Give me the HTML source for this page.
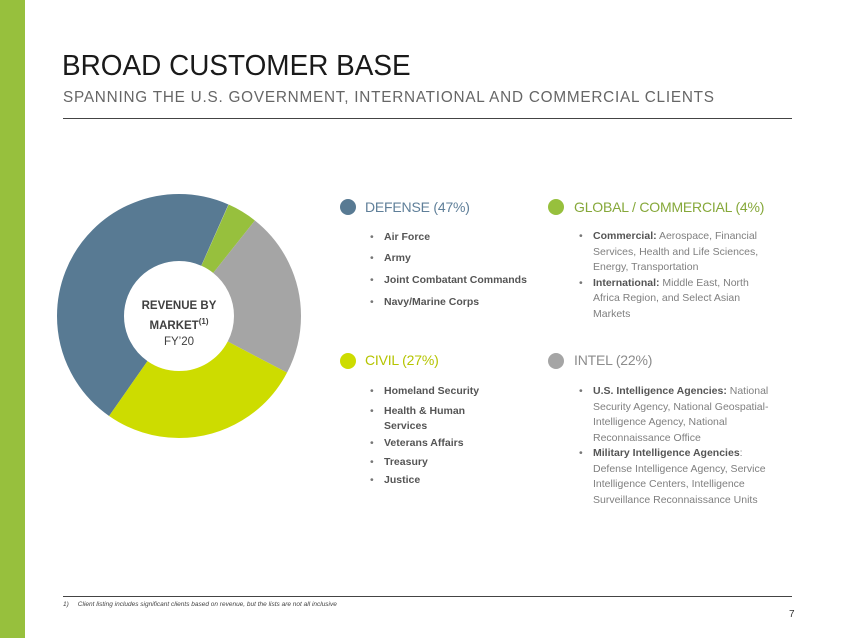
<!DOCTYPE html>
<html><head><meta charset="utf-8"><style>
*{margin:0;padding:0;box-sizing:border-box}
body{width:850px;height:638px;background:#fff;position:relative;overflow:hidden;font-family:"Liberation Sans",sans-serif}
.a{position:absolute;white-space:nowrap}
.bar{left:0;top:0;width:25px;height:638px;background:#97c03d;position:absolute}
.dot{position:absolute;width:16px;height:16px;border-radius:50%}
.h{position:absolute;font-size:14px;letter-spacing:-0.2px}
.li{position:absolute;font-size:10.5px;color:#555;font-weight:bold;white-space:nowrap}
.li:before{content:"•";position:absolute;left:-14px;color:#777;font-weight:normal}
.t{position:absolute;font-size:10.5px;color:#7f7f7f;line-height:15.5px;white-space:nowrap}
.t b{color:#555}
.t .bl{position:relative}
.t .bl:before{content:"•";position:absolute;left:-14px;color:#777}
</style></head><body>
<div class="bar"></div>
<div class="a" style="left:62px;top:50px;font-size:29px;color:#1a1a1a;transform:scaleX(0.963);transform-origin:left">BROAD CUSTOMER BASE</div>
<div class="a" style="left:63px;top:89px;font-size:16px;color:#666;letter-spacing:0.8px;transform:scaleX(0.957);transform-origin:left">SPANNING THE U.S. GOVERNMENT, INTERNATIONAL AND COMMERCIAL CLIENTS</div>
<div style="position:absolute;left:63px;top:118px;width:729px;height:1px;background:#444"></div>

<svg style="position:absolute;left:0;top:0" width="850" height="638">
<g transform="rotate(-90 179 316)" fill="none" stroke-width="67">
<circle cx="179" cy="316" r="88.5" stroke="#587a93" stroke-dasharray="261.3 295" stroke-dashoffset="-331.9"/>
<circle cx="179" cy="316" r="88.5" stroke="#97c03d" stroke-dasharray="22.3 540" stroke-dashoffset="-37.1"/>
<circle cx="179" cy="316" r="88.5" stroke="#a5a5a5" stroke-dasharray="122.3 440" stroke-dashoffset="-59.4"/>
<circle cx="179" cy="316" r="88.5" stroke="#cddc00" stroke-dasharray="150.2 410" stroke-dashoffset="-181.7"/>
</g>
</svg>
<div class="a" style="left:124px;top:298px;width:110px;text-align:center;font-size:11.5px;font-weight:bold;color:#404040;line-height:16px">REVENUE BY<br>MARKET<sup style="font-size:8px">(1)</sup><br><span style="font-weight:normal">FY’20</span></div>

<div class="dot" style="left:340px;top:199px;background:#587a93"></div>
<div class="h" style="left:365px;top:199px;color:#5f7f99">DEFENSE (47%)</div>
<div class="li" style="left:384px;top:231px">Air Force</div>
<div class="li" style="left:384px;top:252px">Army</div>
<div class="li" style="left:384px;top:274px">Joint Combatant Commands</div>
<div class="li" style="left:384px;top:296px">Navy/Marine Corps</div>

<div class="dot" style="left:548px;top:199px;background:#97c03d"></div>
<div class="h" style="left:574px;top:199px;color:#86a83a">GLOBAL / COMMERCIAL (4%)</div>
<div class="t" style="left:593px;top:229px"><span class="bl"><b>Commercial:</b> Aerospace, Financial</span><br>Services, Health and Life Sciences,<br>Energy, Transportation<br><span class="bl"><b>International:</b> Middle East, North</span><br>Africa Region, and Select Asian<br>Markets</div>

<div class="dot" style="left:340px;top:353px;background:#cddc00"></div>
<div class="h" style="left:365px;top:352px;color:#b5c400">CIVIL (27%)</div>
<div class="li" style="left:384px;top:385px">Homeland Security</div>
<div class="li" style="left:384px;top:404px;line-height:15px">Health &amp; Human<br>Services</div>
<div class="li" style="left:384px;top:437px">Veterans Affairs</div>
<div class="li" style="left:384px;top:456px">Treasury</div>
<div class="li" style="left:384px;top:474px">Justice</div>

<div class="dot" style="left:548px;top:353px;background:#a5a5a5"></div>
<div class="h" style="left:574px;top:352px;color:#8c8c8c">INTEL (22%)</div>
<div class="t" style="left:593px;top:384px"><span class="bl"><b>U.S. Intelligence Agencies:</b> National</span><br>Security Agency, National Geospatial-<br>Intelligence Agency, National<br>Reconnaissance Office<br><span class="bl"><b>Military Intelligence Agencies</b>:</span><br>Defense Intelligence Agency, Service<br>Intelligence Centers, Intelligence<br>Surveillance Reconnaissance Units</div>

<div style="position:absolute;left:63px;top:596px;width:729px;height:1px;background:#444"></div>
<div class="a" style="left:63px;top:601px;font-size:6.5px;font-style:italic;color:#444">1)&nbsp;&nbsp;&nbsp;&nbsp;&nbsp;Client listing includes significant clients based on revenue, but the lists are not all inclusive</div>
<div class="a" style="left:789px;top:609px;font-size:10px;color:#333">7</div>
</body></html>
